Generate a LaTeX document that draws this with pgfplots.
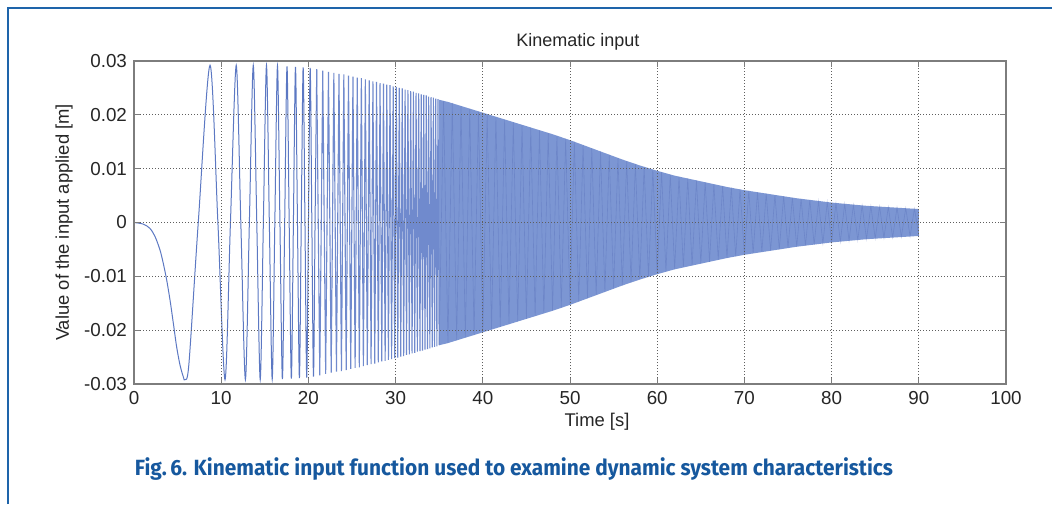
\documentclass[border=0pt]{standalone}
\usepackage{pgfplots}
\pgfplotsset{compat=1.18}
\usepackage{fontspec}
\setmainfont{Liberation Sans}
\newfontfamily\capfont{Fira Sans}
\usepackage{graphicx}
\definecolor{sig}{RGB}{92,120,195}
\definecolor{sig2}{RGB}{112,138,205}
\definecolor{bandfill}{RGB}{124,150,211}
\definecolor{zig}{RGB}{82,106,182}
\definecolor{capblue}{RGB}{22,88,158}
\definecolor{frameblue}{RGB}{30,100,170}
\definecolor{axgray}{RGB}{125,125,125}
\definecolor{gridgray}{RGB}{95,95,95}
\begin{document}
\begin{tikzpicture}
\path[use as bounding box] (0,0) rectangle (526pt,252pt);
\fill[white] (0,0) rectangle (526pt,252pt);
\draw[frameblue, line width=1pt] (4pt,0) -- (4pt,248pt) -- (526pt,248pt);
\begin{axis}[
  at={(67pt,60pt)}, anchor=south west,
  width=436pt, height=161.5pt, scale only axis,
  xmin=0, xmax=100, ymin=-0.03, ymax=0.03,
  xtick={0,10,...,100},
  ytick={-0.03,-0.02,-0.01,0,0.01,0.02,0.03},
  yticklabels={-0.03,-0.02,-0.01,0,0.01,0.02,0.03},
  scaled y ticks=false,
  /pgf/number format/assume math mode=true,
  ticklabel style={font=\fontsize{9.4}{11}\selectfont, black!85},
  tick align=inside, major tick length=3pt,
  tick style={axgray, line width=0.5pt},
  axis line style={axgray, line width=0.7pt},
  grid=major,
  major grid style={gridgray, line width=0.45pt, dash pattern=on 0.5pt off 1pt},
  axis on top,
  title={Kinematic input},
  title style={font=\fontsize{9}{11}\selectfont, black!85, at={(axis description cs:0.509,1.022)}, anchor=center},
  xlabel={Time [s]},
  xlabel style={font=\fontsize{9.2}{11}\selectfont, black!85, at={(axis description cs:0.531,-0.117)}, anchor=center},
  ylabel={Value of the input applied [m]},
  ylabel style={font=\fontsize{9.2}{11}\selectfont, black!85, at={(axis description cs:-0.080,0.5)}, anchor=center, rotate=0},
]
% dense band (aliased region)
\addplot[fill=bandfill, draw=none] coordinates {
(35,0.0228)(36,0.0224)(38,0.0214)(40,0.0204)(42,0.0194)(44,0.0184)(46,0.0174)(48,0.0164)(50,0.0153)(52,0.0141)(54,0.0129)(56,0.0117)(58,0.0106)(60,0.0096)(62,0.0087)(64,0.0080)(66,0.0073)(68,0.0066)(70,0.0060)(72,0.0055)(74,0.0050)(76,0.0045)(78,0.0041)(80,0.0037)(82,0.0034)(84,0.0031)(86,0.0029)(88,0.0027)(90,0.0025)
(90,-0.0025)(88,-0.0027)(86,-0.0029)(84,-0.0031)(82,-0.0034)(80,-0.0037)(78,-0.0041)(76,-0.0045)(74,-0.0050)(72,-0.0055)(70,-0.0060)(68,-0.0066)(66,-0.0073)(64,-0.0080)(62,-0.0087)(60,-0.0096)(58,-0.0106)(56,-0.0117)(54,-0.0129)(52,-0.0141)(50,-0.0153)(48,-0.0164)(46,-0.0174)(44,-0.0184)(42,-0.0194)(40,-0.0204)(38,-0.0214)(36,-0.0224)(35,-0.0228)
} -- cycle;
% zigzag in dense region
\addplot[zig, line width=0.3pt, opacity=0.35] coordinates {
(34.993,-0.0228)(35.5,0.0226)(36,-0.0224)(36.5,0.0222)(37,-0.0219)(37.5,0.0216)(38,-0.0214)(38.5,0.0211)(39,-0.0209)(39.5,0.0206)(40,-0.0204)(40.5,0.0201)(41,-0.0199)(41.5,0.0196)(42,-0.0194)(42.5,0.0191)(43,-0.0189)(43.5,0.0186)(44,-0.0184)(44.5,0.0181)(45,-0.0179)(45.5,0.0176)(46,-0.0174)(46.5,0.0171)(47,-0.0169)(47.5,0.0166)(48,-0.0164)(48.5,0.0161)(49,-0.0158)(49.5,0.0156)(50,-0.0153)(50.5,0.0150)(51,-0.0147)(51.5,0.0144)(52,-0.0141)(52.5,0.0138)(53,-0.0135)(53.5,0.0132)(54,-0.0129)(54.5,0.0126)(55,-0.0123)(55.5,0.0120)(56,-0.0117)(56.5,0.0114)(57,-0.0111)(57.5,0.0109)(58,-0.0106)(58.5,0.0103)(59,-0.0101)(59.5,0.0098)(60,-0.0096)(60.5,0.0094)(61,-0.0091)(61.5,0.0089)(62,-0.0087)(62.5,0.0085)(63,-0.0083)(63.5,0.0082)(64,-0.0080)(64.5,0.0078)(65,-0.0076)(65.5,0.0075)(66,-0.0073)(66.5,0.0071)(67,-0.0069)(67.5,0.0068)(68,-0.0066)(68.5,0.0065)(69,-0.0063)(69.5,0.0062)(70,-0.0060)(70.5,0.0059)(71,-0.0057)(71.5,0.0056)(72,-0.0055)(72.5,0.0054)(73,-0.0052)(73.5,0.0051)(74,-0.0050)(74.5,0.0049)(75,-0.0047)(75.5,0.0046)(76,-0.0045)(76.5,0.0044)(77,-0.0043)(77.5,0.0042)(78,-0.0041)(78.5,0.0040)(79,-0.0039)(79.5,0.0038)(80,-0.0037)(80.5,0.0036)(81,-0.0036)(81.5,0.0035)(82,-0.0034)(82.5,0.0033)(83,-0.0033)(83.5,0.0032)(84,-0.0031)(84.5,0.0031)(85,-0.0030)(85.5,0.0030)(86,-0.0029)(86.5,0.0029)(87,-0.0028)(87.5,0.0028)(88,-0.0027)(88.5,0.0027)(89,-0.0026)(89.5,0.0026)(90,-0.0025)
};
% early smooth part of the signal
\addplot[sig, line width=0.5pt, smooth] coordinates {
(0,0)(1.07,-0.0003)(1.83,-0.0011)(2.41,-0.0026)(2.98,-0.0051)(3.36,-0.0076)(3.75,-0.0107)(4.13,-0.0144)(4.51,-0.0187)(4.89,-0.0231)(5.28,-0.0265)(5.66,-0.0287)(5.85,-0.0292)(6.3,-0.0262)(7.37,0)(8.72,0.0292)(9.62,0)(10.437,-0.0292)(11.06,0)(11.723,0.0292)(12.25,0)(12.775,-0.0292)(13.23,0)(13.678,0.0292)(14.08,0)(14.475,-0.0292)(14.835,0)(15.193,0.0292)(15.52,0)(15.849,-0.0291)(16.15,0)(16.454,0.0291)(16.735,0)(17.018,-0.0291)(17.28,0)(17.547,0.0290)(17.795,0)(18.046,-0.0290)(18.28,0)(18.519,0.0289)(18.745,0)(18.968,-0.0289)(19.18,0)(19.398,0.0288)(19.605,0)(19.809,-0.0288)(20.005,0)(20.204,0.0287)(20.395,0)(20.584,-0.0286)(20.765,0)(20.95,0.0285)
};
% faster oscillations
\addplot[sig2, line width=0.55pt] coordinates {
(20.95,0.0285)(21.304,-0.0284)(21.646,0.0282)(21.979,-0.0281)(22.301,0.0280)(22.614,-0.0279)(22.919,0.0278)(23.216,-0.0277)(23.506,0.0276)(23.788,-0.0276)(24.064,0.0275)(24.334,-0.0274)(24.598,0.0273)(24.856,-0.0272)(25.109,0.0271)(25.357,-0.0270)(25.601,0.0269)(25.84,-0.0269)(26.074,0.0268)(26.304,-0.0267)(26.53,0.0266)(26.754,-0.0265)(26.973,0.0264)(27.188,-0.0263)(27.40,0.0262)(27.609,-0.0262)(27.814,0.0261)(28.017,-0.0260)(28.217,0.0259)(28.414,-0.0258)(28.609,0.0258)(28.80,-0.0257)(28.99,0.0256)(29.177,-0.0255)(29.361,0.0255)(29.543,-0.0254)(29.723,0.0253)(29.901,-0.0252)(30.077,0.0252)(30.25,-0.0251)(30.422,0.0250)(30.591,-0.0249)(30.76,0.0249)(30.926,-0.0248)(31.09,0.0247)(31.253,-0.0246)(31.413,0.0246)(31.573,-0.0245)(31.73,0.0244)(31.887,-0.0243)(32.041,0.0243)(32.195,-0.0242)(32.346,0.0241)(32.496,-0.0240)(32.645,0.0240)(32.793,-0.0239)(32.939,0.0238)(33.084,-0.0238)(33.228,0.0237)(33.371,-0.0236)(33.512,0.0236)(33.652,-0.0235)(33.79,0.0234)(33.929,-0.0234)(34.065,0.0233)(34.201,-0.0232)(34.335,0.0232)(34.469,-0.0231)(34.602,0.0230)(34.733,-0.0230)(34.863,0.0229)(34.993,-0.0228)
};
\end{axis}
\node[text=capblue, anchor=center] at (257pt,17.5pt) {\resizebox{379pt}{\height}{\capfont\bfseries\fontsize{11}{13}\selectfont Fig.\,6. Kinematic input function used to examine dynamic system characteristics}};
\end{tikzpicture}
\end{document}
